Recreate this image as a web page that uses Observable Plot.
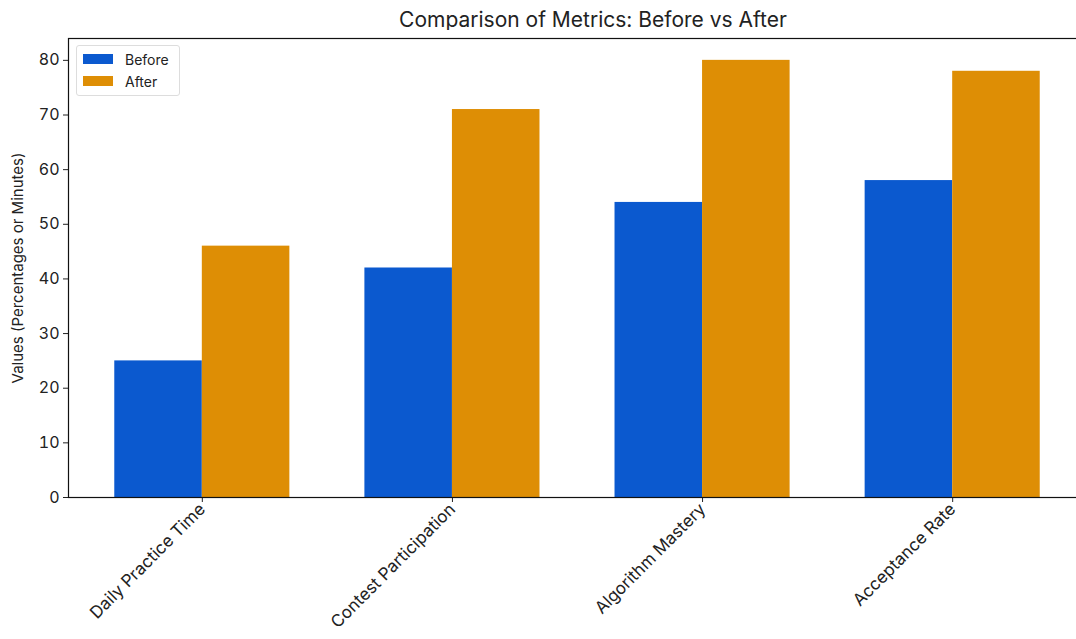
<!DOCTYPE html>
<html>
<head>
<meta charset="utf-8">
<script src="https://cdn.jsdelivr.net/npm/d3@7"></script>
<script src="https://cdn.jsdelivr.net/npm/@observablehq/plot@0.6"></script>
<style>
  html, body { margin: 0; padding: 0; background: #fff; }
  body { width: 1076px; height: 639px; overflow: hidden; font-family: Inter, "Open Sans", sans-serif; color: #222; }
  #wrap { position: relative; width: 1076px; height: 639px; overflow: hidden; }
  #title { position: absolute; left: 0; top: 7px; width: 1186px; text-align: center; font-size: 21px; color: #222; }
  #chart { position: absolute; left: 0; top: 30px; width: 1096px; }
  #chart svg { max-width: none !important; }
  #legend { position: absolute; left: 76px; top: 45px; width: 104px; height: 51px; border: 1px solid #ddd; border-radius: 3px; box-sizing: border-box; background: #fff; font-size: 14px; }
  .item { position: absolute; left: 6px; height: 14px; display: flex; align-items: center; }
  .sw { width: 30px; height: 10px; margin-right: 12px; }
</style>
</head>
<body>
<div id="wrap">
  <div id="title">Comparison of Metrics: Before vs After</div>
  <div id="chart"></div>
  <div id="legend"></div>
</div>
<script>
const categories = ["Daily Practice Time", "Contest Participation", "Algorithm Mastery", "Acceptance Rate"];
const seriesNames = ["Before", "After"];
const beforeValues = [25, 42, 54, 58];
const afterValues = [46, 71, 80, 78];
const yTicks = [0, 10, 20, 30, 40, 50, 60, 70, 80];
const colors = ["#0b59cf", "#de8e05"];
const yLabel = "Values (Percentages or Minutes)";

const barWidth = 0.35;
const rows = [];
categories.forEach((c, i) => {
  rows.push({i, series: "Before", value: beforeValues[i], x1: i - barWidth, x2: i});
  rows.push({i, series: "After", value: afterValues[i], x1: i, x2: i + barWidth});
});

const chart = Plot.plot({
  width: 1096,
  height: 609,
  marginLeft: 68,
  marginRight: 10,
  marginTop: 8,
  marginBottom: 142,
  style: {fontFamily: "Inter, 'Open Sans', sans-serif", color: "#222", background: "#fff", maxWidth: "none"},
  x: {domain: [-0.535, 3.535]},
  y: {domain: [0, 84]},
  color: {domain: seriesNames, range: colors},
  marks: [
    Plot.rect(rows, {x1: "x1", x2: "x2", y1: 0, y2: "value", fill: "series"}),
    Plot.axisY({ticks: yTicks, tickSize: 5, tickPadding: 4, fontSize: 16, label: null, stroke: "#222"}),
    Plot.axisX({ticks: [0, 1, 2, 3], tickFormat: i => categories[i], tickSize: 5, tickRotate: -45, fontSize: 17, label: null, tickPadding: 4}),
    Plot.text([yLabel], {frameAnchor: "left", dx: -50, rotate: -90, textAnchor: "middle", fontSize: 15, fill: "#222"}),
    Plot.frame({stroke: "#111", strokeWidth: 1.2})
  ]
});
document.getElementById("chart").appendChild(chart);

const legend = document.getElementById("legend");
seriesNames.forEach((s, k) => {
  const it = document.createElement("div");
  it.className = "item";
  it.style.top = (6 + k * 22) + "px";
  it.innerHTML = `<div class="sw" style="background:${colors[k]}"></div><span>${s}</span>`;
  legend.appendChild(it);
});
</script>
</body>
</html>
